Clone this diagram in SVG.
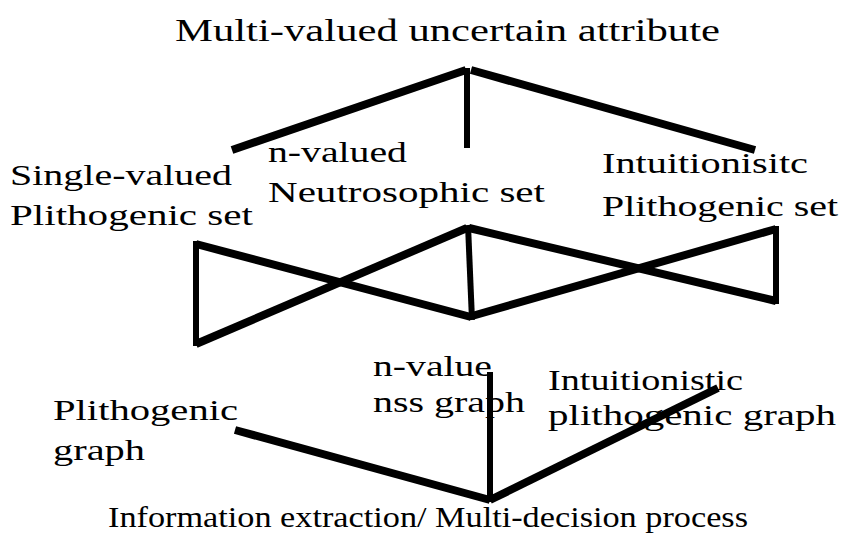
<svg xmlns="http://www.w3.org/2000/svg" width="846" height="535" viewBox="0 0 846 535">
<style>
.t{font-size:31px;}
.b{font-size:30px;}
.e{stroke:#000;stroke-width:8;fill:none;stroke-linecap:butt;}
.v{stroke:#000;stroke-width:6;fill:none;}
</style>
<rect width="846" height="535" fill="#fff"/>
<g id="connectors">
<line class="e" x1="232" y1="150" x2="466" y2="70"/>
<line class="v" x1="467" y1="68" x2="467" y2="148"/>
<line class="e" x1="471" y1="70" x2="755" y2="150"/>
<line class="v" x1="196" y1="241" x2="196" y2="346"/>
<line class="e" x1="196" y1="244" x2="471" y2="317"/>
<line class="e" x1="196" y1="344" x2="467" y2="228"/>
<line class="v" x1="468" y1="225" x2="472" y2="320"/>
<line class="e" x1="469" y1="228" x2="776" y2="301"/>
<line class="e" x1="472" y1="316" x2="776" y2="229"/>
<line class="v" x1="776" y1="226" x2="776" y2="304"/>
<line class="v" x1="490" y1="372" x2="490" y2="502"/>
<line class="e" x1="235" y1="430" x2="490" y2="500"/>
<line class="e" x1="490" y1="500" x2="718" y2="388"/>
</g>
<g font-family="'Liberation Serif', 'Times New Roman', Times, serif" fill="#000">
<g id="title"><text class="t" x="175" y="41" textLength="545" lengthAdjust="spacingAndGlyphs">Multi-valued uncertain attribute</text></g>
<g id="single"><text class="b" x="10" y="185" textLength="222" lengthAdjust="spacingAndGlyphs">Single-valued</text><text class="b" x="10" y="225" textLength="243" lengthAdjust="spacingAndGlyphs">Plithogenic set</text></g>
<g id="nvalued"><text class="b" x="268" y="162" textLength="139" lengthAdjust="spacingAndGlyphs">n-valued</text><text class="b" x="268" y="202" textLength="277" lengthAdjust="spacingAndGlyphs">Neutrosophic set</text></g>
<g id="intuit"><text class="b" x="602" y="173" textLength="206" lengthAdjust="spacingAndGlyphs">Intuitionisitc</text><text class="b" x="602" y="216" textLength="236" lengthAdjust="spacingAndGlyphs">Plithogenic set</text></g>
<g id="pgraph"><text class="b" x="53" y="420" textLength="185" lengthAdjust="spacingAndGlyphs">Plithogenic</text><text class="b" x="53" y="460" textLength="92" lengthAdjust="spacingAndGlyphs">graph</text></g>
<g id="nss"><text class="b" x="373" y="376" textLength="119" lengthAdjust="spacingAndGlyphs">n-value</text><text class="b" x="373" y="412" textLength="152" lengthAdjust="spacingAndGlyphs">nss graph</text></g>
<g id="ipg"><text class="b" x="548" y="390" textLength="195" lengthAdjust="spacingAndGlyphs">Intuitionistic</text><text class="b" x="548" y="425" textLength="288" lengthAdjust="spacingAndGlyphs">plithogenic graph</text></g>
<g id="info"><text class="b" x="108" y="527" textLength="640" lengthAdjust="spacingAndGlyphs">Information extraction/ Multi-decision process</text></g>
</g>
</svg>
